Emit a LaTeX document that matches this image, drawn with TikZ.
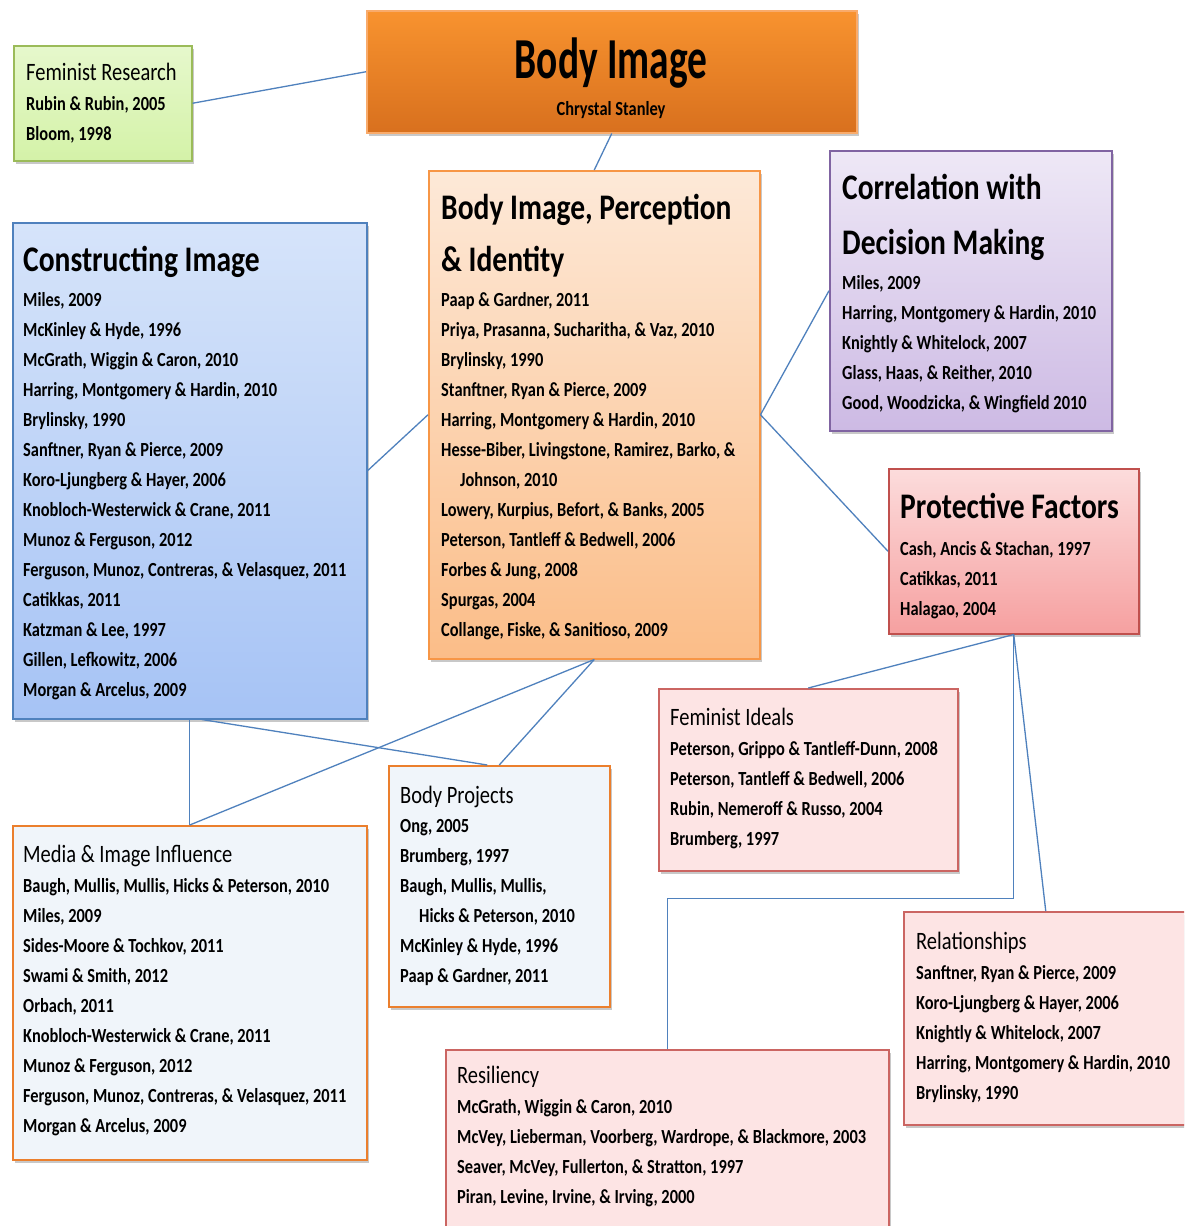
\documentclass[tikz,border=0pt]{standalone}
\usepackage{fontspec}
\setmainfont[FakeStretch=0.82]{Carlito}
\newfontfamily\bigfont[FakeStretch=0.68]{Carlito}
\usetikzlibrary{shadows}
\definecolor{conn}{HTML}{4F81BD}
\definecolor{orgA}{HTML}{F8932F}
\definecolor{orgB}{HTML}{D8701E}
\definecolor{orgD}{HTML}{F79646}
\definecolor{grnF}{HTML}{E6F8CC}
\definecolor{grnG}{HTML}{D4F2A8}
\definecolor{grnD}{HTML}{9BBB59}
\definecolor{bluA}{HTML}{D6E4FA}
\definecolor{bluB}{HTML}{A6C3F5}
\definecolor{bluD}{HTML}{4F81BD}
\definecolor{pchA}{HTML}{FDE9D8}
\definecolor{pchB}{HTML}{FBBD88}
\definecolor{purA}{HTML}{EEE8F6}
\definecolor{purB}{HTML}{CDBAE4}
\definecolor{purD}{HTML}{8064A2}
\definecolor{redA}{HTML}{FCDCDC}
\definecolor{redB}{HTML}{F6A0A0}
\definecolor{redD}{HTML}{C0504D}
\definecolor{pnkF}{HTML}{FDE4E4}
\definecolor{pnkD}{HTML}{CB6562}
\definecolor{wbF}{HTML}{F0F5FA}
\definecolor{wbD}{HTML}{EB7F2D}
\tikzset{
  box/.style={draw, line width=1.5pt, inner sep=0pt, anchor=north west,
    drop shadow={shadow xshift=2pt, shadow yshift=-3pt, opacity=0.3, fill=black!70}},
  conline/.style={draw=conn, line width=1.3pt},
  itm/.style={font=\fontsize{20}{30}\selectfont\bfseries, align=left, inner sep=0pt, anchor=north west},
  ttl/.style={font=\fontsize{36}{40}\selectfont\bfseries, inner sep=0pt, anchor=base west},
  sttl/.style={font=\fontsize{25}{30}\selectfont, inner sep=0pt, anchor=base west}
}
\newcommand{\fs}{\rule{0pt}{15pt}}
\newcommand{\ind}{\hspace*{19pt}}
\begin{document}
\begin{tikzpicture}[x=1pt,y=-1pt]
\useasboundingbox (0,0) rectangle (1184,1226);
\clip (0,0) rectangle (1184,1226);
\fill[white] (0,0) rectangle (1184,1226);

% boxes
\node[box, draw=orgD!80, top color=orgA, bottom color=orgB, minimum width=490pt, minimum height=122pt] (bi) at (366,10) {};
\node[box, draw=grnD, top color=grnF, bottom color=grnG, minimum width=178pt, minimum height=115pt] (fr) at (13,45) {};
\node[box, draw=bluD, top color=bluA, bottom color=bluB, minimum width=354pt, minimum height=496pt] (ci) at (12,222) {};
\node[box, draw=orgD, top color=pchA, bottom color=pchB, minimum width=331pt, minimum height=488pt] (bp) at (428,170) {};
\node[box, draw=purD, top color=purA, bottom color=purB, minimum width=282pt, minimum height=280pt] (co) at (829,150) {};
\node[box, draw=redD, top color=redA, bottom color=redB, minimum width=250pt, minimum height=165pt] (pf) at (888,468) {};
\node[box, draw=pnkD, fill=pnkF, minimum width=299pt, minimum height=182pt] (fi) at (658,688) {};
\node[box, draw=pnkD, fill=pnkF, minimum width=284pt, minimum height=213pt] (re) at (903,911) {};
\node[box, draw=pnkD, fill=pnkF, minimum width=443pt, minimum height=200pt] (rs) at (445,1049) {};
\node[box, draw=wbD, fill=wbF, minimum width=221pt, minimum height=241pt] (bj) at (388,765) {};
\node[box, draw=wbD, fill=wbF, minimum width=354pt, minimum height=334pt] (mi) at (12,825) {};

% connectors
\draw[conline] (fr.east) -- (bi.west);
\draw[conline] (bi.south) -- (bp.north);
\draw[conline] (ci.east) -- (bp.west);
\draw[conline] (bp.east) -- (co.west);
\draw[conline] (bp.east) -- (pf.west);
\draw[conline] (bp.south) -- (mi.north);
\draw[conline] (bp.south) -- (bj.north);
\draw[conline] (ci.south) -- (mi.north);
\draw[conline] ([xshift=12pt]ci.south) -- ([xshift=-12pt]bj.north);
\draw[conline] (pf.south) -- (fi.north);
\draw[conline] (pf.south) -- (re.north);
\draw[conline] (pf.south) -- ++(0,264) -| (rs.north);

% Body Image
\node[font=\bigfont\fontsize{58}{60}\selectfont\bfseries, inner sep=0pt, anchor=base] (bit) at (611,78) {Body Image};
\node[font=\fontsize{20}{24}\selectfont\bfseries, inner sep=0pt, anchor=base] (bis) at (611,115) {Chrystal Stanley};

% Feminist Research
\node[sttl] (frt) at (26,80) {Feminist Research};
\node[itm] (fri) at (26,95) {\fs Rubin \& Rubin, 2005\\Bloom, 1998};

% Constructing Image
\node[ttl] (cit) at (23,271.5) {Constructing Image};
\node[itm] (cii) at (23,291) {\fs Miles, 2009\\McKinley \& Hyde, 1996\\McGrath, Wiggin \& Caron, 2010\\Harring, Montgomery \& Hardin, 2010\\Brylinsky, 1990\\Sanftner, Ryan \& Pierce, 2009\\Koro-Ljungberg \& Hayer, 2006\\Knobloch-Westerwick \& Crane, 2011\\Munoz \& Ferguson, 2012\\Ferguson, Munoz, Contreras, \& Velasquez, 2011\\Catikkas, 2011\\Katzman \& Lee, 1997\\Gillen, Lefkowitz, 2006\\Morgan \& Arcelus, 2009};

% Body Image, Perception & Identity
\node[ttl] (bpt1) at (441,219.5) {Body Image, Perception};
\node[ttl] (bpt2) at (441,271.5) {\& Identity};
\node[itm] (bpi) at (441,291) {\fs Paap \& Gardner, 2011\\Priya, Prasanna, Sucharitha, \& Vaz, 2010\\Brylinsky, 1990\\Stanftner, Ryan \& Pierce, 2009\\Harring, Montgomery \& Hardin, 2010\\Hesse-Biber, Livingstone, Ramirez, Barko, \&\\\ind Johnson, 2010\\Lowery, Kurpius, Befort, \& Banks, 2005\\Peterson, Tantleff \& Bedwell, 2006\\Forbes \& Jung, 2008\\Spurgas, 2004\\Collange, Fiske, \& Sanitioso, 2009};

% Correlation with Decision Making
\node[ttl] (cot1) at (842,199.5) {Correlation with};
\node[ttl] (cot2) at (842,254.5) {Decision Making};
\node[itm] (coi) at (842,274) {\fs Miles, 2009\\Harring, Montgomery \& Hardin, 2010\\Knightly \& Whitelock, 2007\\Glass, Haas, \& Reither, 2010\\Good, Woodzicka, \& Wingfield 2010};

% Protective Factors
\node[ttl] (pft) at (900,518.5) {Protective Factors};
\node[itm] (pfi) at (900,540) {\fs Cash, Ancis \& Stachan, 1997\\Catikkas, 2011\\Halagao, 2004};

% Feminist Ideals
\node[sttl] (fit) at (670,725) {Feminist Ideals};
\node[itm] (fii) at (670,740) {\fs Peterson, Grippo \& Tantleff-Dunn, 2008\\Peterson, Tantleff \& Bedwell, 2006\\Rubin, Nemeroff \& Russo, 2004\\Brumberg, 1997};

% Body Projects
\node[sttl] (bjt) at (400,803) {Body Projects};
\node[itm] (bji) at (400,817) {\fs Ong, 2005\\Brumberg, 1997\\Baugh, Mullis, Mullis,\\\ind Hicks \& Peterson, 2010\\McKinley \& Hyde, 1996\\Paap \& Gardner, 2011};

% Media & Image Influence
\node[sttl] (mit) at (23,862) {Media \& Image Influence};
\node[itm] (mii) at (23,877) {\fs Baugh, Mullis, Mullis, Hicks \& Peterson, 2010\\Miles, 2009\\Sides-Moore \& Tochkov, 2011\\Swami \& Smith, 2012\\Orbach, 2011\\Knobloch-Westerwick \& Crane, 2011\\Munoz \& Ferguson, 2012\\Ferguson, Munoz, Contreras, \& Velasquez, 2011\\Morgan \& Arcelus, 2009};

% Relationships
\node[sttl] (ret) at (916,949) {Relationships};
\node[itm] (rei) at (916,964) {\fs Sanftner, Ryan \& Pierce, 2009\\Koro-Ljungberg \& Hayer, 2006\\Knightly \& Whitelock, 2007\\Harring, Montgomery \& Hardin, 2010\\Brylinsky, 1990};

% Resiliency
\node[sttl] (rst) at (457,1083) {Resiliency};
\node[itm] (rsi) at (457,1098) {\fs McGrath, Wiggin \& Caron, 2010\\McVey, Lieberman, Voorberg, Wardrope, \& Blackmore, 2003\\Seaver, McVey, Fullerton, \& Stratton, 1997\\Piran, Levine, Irvine, \& Irving, 2000};
\end{tikzpicture}
\end{document}
